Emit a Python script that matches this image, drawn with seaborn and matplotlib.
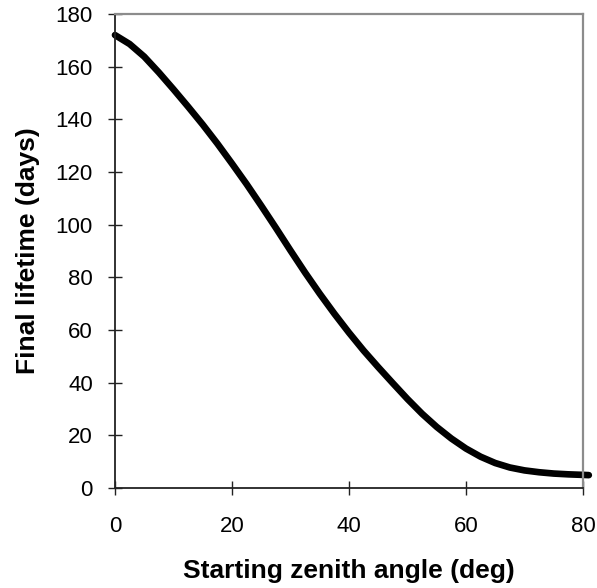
import pandas as pd
import matplotlib.pyplot as plt
import seaborn as sns

# starting zenith angle (deg) vs final lifetime (days)
angle = [0, 2.5, 5, 7.5, 10, 12.5, 15, 17.5, 20, 22.5, 25, 27.5, 30, 32.5,
         35, 37.5, 40, 42.5, 45, 47.5, 50, 52.5, 55, 57.5, 60, 62.5, 65,
         67.5, 70, 72.5, 75, 77.5, 80, 81]
lifetime = [172, 168.6, 163.8, 157.8, 151.4, 144.8, 138, 130.8, 123.2, 115.4,
            107.2, 98.8, 90.2, 81.8, 73.8, 66.2, 59, 52.2, 45.9, 39.8, 33.8,
            28.2, 23.2, 18.8, 15.0, 11.9, 9.5, 7.8, 6.7, 6.0, 5.5, 5.2, 5.0,
            4.9]

x_ticks = [0, 20, 40, 60, 80]
y_ticks = [0, 20, 40, 60, 80, 100, 120, 140, 160, 180]

sns.set_style("ticks")
plt.rcParams["font.family"] = ["Liberation Sans", "DejaVu Sans"]
plt.rcParams["text.color"] = "black"
plt.rcParams["axes.labelcolor"] = "black"

data = pd.DataFrame({"angle": angle, "lifetime": lifetime})

fig = plt.figure(figsize=(5.97, 5.88), dpi=100)
ax = fig.add_axes([0.1926, 0.170, 0.7839, 0.8062])

sns.lineplot(data=data, x="angle", y="lifetime", ax=ax, color="black",
             linewidth=4.8, clip_on=False)
for ln in ax.lines:
    ln.set_solid_joinstyle("round")

ax.set_xlim(0, 80)
ax.set_ylim(0, 180)
ax.set_xticks(x_ticks)
ax.set_yticks(y_ticks)

ax.tick_params(axis="both", direction="inout", length=10, width=1,
               color="#222222", labelsize=16, labelcolor="black")
ax.tick_params(axis="x", pad=15)
ax.tick_params(axis="y", pad=11)

for side in ["left", "bottom"]:
    ax.spines[side].set_color("#222222")
    ax.spines[side].set_linewidth(1.3)
for side in ["top", "right"]:
    ax.spines[side].set_visible(True)
    ax.spines[side].set_color("#8c8c8c")
    ax.spines[side].set_linewidth(1.6)

ax.set_xlabel("Starting zenith angle (deg)", fontsize=19, fontweight="bold",
              labelpad=16, color="black")
ax.set_ylabel("Final lifetime (days)", fontsize=19, fontweight="bold",
              labelpad=11, color="black")

fig.savefig("out.png", dpi=100)
plt.close(fig)
